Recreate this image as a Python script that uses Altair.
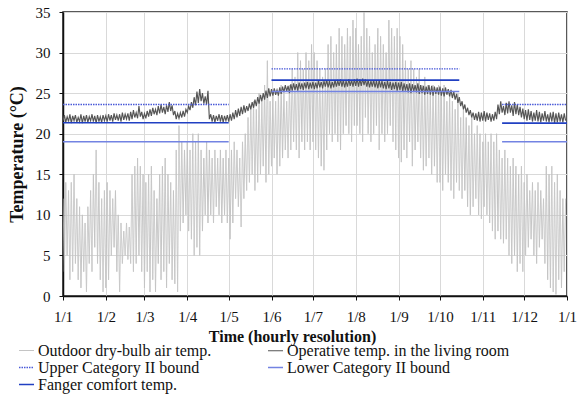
import altair as alt
import pandas as pd

# ---------------- data ----------------
month_days = [0, 31, 59, 90, 120, 151, 181, 212, 243, 273, 304, 334, 365]
month_labels = ["1/1", "1/2", "1/3", "1/4", "1/5", "1/6", "1/7", "1/8",
                "1/9", "1/10", "1/11", "1/12", "1/1"]

# one reading per day of the year (alternating daily low / high)
day_of_year = list(range(365))

outdoor = [
    # Jan
    12, 3, 14, 5, 13, 2, 14, 3, 15, 4, 12, 2, 11, 1, 10, 3, 9, 0.5, 11, 4,
    13, 3, 15, 6, 18, 4, 14, 2, 12, 0.5, 13,
    # Feb
    1, 14, 2, 13, 5, 12, 6, 13, 3, 10, 0.5, 9, 4, 8, 5, 9, 4.5, 8.5, 4, 15,
    3, 16, 4, 17, 5, 16, 3, 15,
    # Mar
    1, 14, 3, 15, 0.5, 16, 2, 13, 0.5, 12, 4, 15, 2, 16, 3, 17, 1, 15, 4, 14,
    2, 13, 1.5, 18, 0.5, 21, 8, 19, 9, 18, 10,
    # Apr
    19, 8, 18, 7, 20, 5, 19, 6, 20, 5, 18, 8, 17, 10, 19, 9, 18, 10, 17, 9,
    18, 11, 17, 10, 18, 9, 17, 10, 18, 9,
    # May
    17, 7, 18, 9, 19, 12, 18, 11, 17, 8.5, 19, 12, 20, 13, 22, 14, 23, 15, 24, 13,
    23, 14, 25, 15, 24, 16, 26, 14, 29, 15, 24,
    # Jun
    16, 25, 17, 24, 15, 25, 16, 26, 17, 25, 18, 24, 17, 26, 18, 28, 19, 27, 18, 30,
    17, 29, 19, 28, 18, 30, 19, 29, 18, 31,
    # Jul
    19, 30, 18, 29, 17, 28, 16, 27, 15.5, 28, 18, 31, 20, 32, 19, 30, 20, 31, 19, 33,
    18, 32, 20, 31, 21, 33, 20, 32, 19, 34, 21,
    # Aug
    33, 21, 31, 20, 32, 19, 35, 22, 33, 20, 32, 19, 30, 20, 31, 21, 33, 18, 32, 20,
    31, 19, 30, 20, 34, 21, 33, 19, 32, 18, 33,
    # Sep
    17, 32, 16.5, 31, 18, 29, 17, 28, 19, 29, 16, 28, 18, 27, 19, 28, 17, 26, 15.5, 27,
    16, 26, 17, 25, 15, 26, 16, 25, 14, 26,
    # Oct
    14, 25, 13, 26, 15, 24, 14, 25, 13, 24, 12, 23, 14, 25, 13, 22, 12, 23, 13, 22,
    11, 21, 10, 22, 11, 20, 12, 21, 10, 20, 9.5,
    # Nov
    19, 11, 20, 10, 19, 9, 20, 8, 19, 7, 20, 8, 18, 7, 17, 6.5, 18, 7, 17, 5,
    16, 4, 17, 5, 16, 3, 15, 4, 16, 3,
    # Dec
    14, 5, 15, 6, 13, 7, 14, 5, 13, 4, 14, 6, 13, 7, 12, 4, 16, 2, 15, 1,
    16, 0.5, 14, 0.2, 15, 2, 13, 1, 12, 3, 12,
]

operative = [
    # Jan
    21.6, 22.3, 21.4, 22.1, 21.5, 22.4, 21.3, 22.2, 21.6, 22.3, 21.4, 22.0, 21.5, 22.4, 21.3, 22.2,
    21.5, 22.3, 21.4, 22.1, 21.6, 22.4, 21.5, 22.2, 21.3, 22.3, 21.5, 22.1, 21.4, 22.3, 21.6,
    # Feb
    22.2, 21.5, 22.4, 21.6, 22.3, 21.5, 22.5, 21.7, 22.3, 21.6, 22.4, 21.5, 22.6, 21.7, 22.4, 21.8,
    22.5, 21.6, 22.7, 21.8, 22.9, 22.0, 22.6, 21.9, 23.4, 22.1, 22.7, 21.8,
    # Mar
    22.5, 21.9, 22.8, 22.1, 23.0, 22.2, 23.2, 22.4, 23.0, 22.3, 23.4, 22.5, 23.6, 22.6, 23.3, 22.4,
    23.5, 22.7, 23.9, 22.8, 23.5, 22.3, 22.8, 21.8, 22.5, 21.9, 22.6, 22.0, 22.8, 22.1, 23.0,
    # Apr
    22.6, 23.4, 22.9, 23.9, 23.2, 24.5, 23.5, 25.2, 23.8, 25.5, 24.0, 25.0, 23.7, 24.6, 23.6, 25.3,
    21.8, 22.4, 21.5, 22.3, 21.4, 22.2, 21.6, 22.4, 21.5, 22.3, 21.4, 22.2, 21.6, 22.3,
    # May
    21.5, 22.4, 21.6, 22.6, 21.8, 22.9, 22.0, 23.1, 22.2, 23.3, 22.4, 23.5, 22.6, 23.4, 22.8, 23.7,
    23.0, 23.9, 23.2, 24.2, 23.4, 24.5, 23.7, 24.8, 24.0, 25.0, 24.2, 25.3, 24.4, 25.6, 24.6,
    # Jun
    25.5, 24.7, 25.6, 24.8, 25.4, 24.7, 25.7, 24.9, 25.8, 25.1, 26.0, 25.2, 25.9, 25.0, 26.1, 25.3,
    26.2, 25.4, 26.1, 25.3, 26.3, 25.5, 26.2, 25.4, 26.3, 25.6, 26.4, 25.5, 26.3, 25.6,
    # Jul
    26.4, 25.5, 26.3, 25.6, 26.5, 25.7, 26.4, 25.6, 26.5, 25.8, 26.6, 25.7, 26.5, 25.6, 26.4, 25.7,
    26.6, 25.8, 26.5, 25.9, 26.7, 25.8, 26.6, 25.7, 26.5, 25.8, 26.7, 25.9, 26.6, 25.8, 26.7,
    # Aug
    25.9, 26.8, 25.8, 26.7, 25.9, 26.8, 26.0, 26.7, 25.8, 26.6, 25.7, 26.5, 25.8, 26.6, 25.7, 26.5,
    25.6, 26.6, 25.7, 26.5, 25.6, 26.4, 25.5, 26.5, 25.6, 26.4, 25.4, 26.3, 25.5, 26.4, 25.3,
    # Sep
    26.3, 25.4, 26.4, 25.2, 26.2, 25.3, 26.1, 25.1, 26.2, 25.0, 26.1, 25.2, 26.0, 25.1, 26.2, 24.9,
    26.0, 25.0, 25.9, 24.8, 25.8, 24.9, 26.0, 24.8, 25.9, 24.7, 25.8, 24.9, 25.7, 24.8,
    # Oct
    25.8, 24.7, 25.6, 24.6, 25.7, 24.8, 25.5, 24.6, 25.4, 24.4, 25.2, 24.2, 24.9, 23.8, 24.5, 23.4,
    24.0, 23.0, 23.6, 22.6, 23.2, 22.3, 22.9, 22.0, 22.6, 21.7, 22.5, 21.6, 22.7, 21.5, 22.6,
    # Nov
    21.6, 22.8, 21.5, 22.6, 21.7, 22.5, 21.5, 22.4, 21.6, 22.7, 21.8, 23.6, 22.4, 24.0, 22.6, 23.4,
    22.3, 23.8, 22.5, 24.0, 22.6, 23.5, 22.2, 23.9, 22.4, 23.6, 22.3, 23.3, 22.0, 23.1,
    # Dec
    21.8, 22.9, 21.6, 23.0, 21.7, 22.8, 21.5, 22.6, 21.6, 22.9, 21.5, 22.7, 21.4, 22.5, 21.6, 22.8,
    21.5, 22.4, 21.4, 22.6, 21.5, 22.7, 21.3, 22.5, 21.4, 22.6, 21.5, 22.4, 21.4, 22.5, 21.6,
]

# comfort bounds per season (heating / cooling / heating)
season_start = [0, 151, 318]
season_end = [120, 287, 365]
upper_bound = [23.6, 28.0, 23.6]
fanger_temp = [21.35, 26.6, 21.3]
lower_bound = [19.0, 25.2, 19.0]

series_names = ["Outdoor dry-bulb air temp.", "Operative temp. in the living room",
                "Upper Category II bound", "Lower Category II bound",
                "Fanger comfort temp."]
series_colors = ["#c4c4c4", "#555555", "#4a5ad8", "#7383e2", "#2140c2"]
series_widths = [1, 1.6, 1, 1, 2.2]
series_dash = [[1, 0], [1, 0], [1.5, 1], [1, 0], [1, 0]]

# ---------------- tables ----------------
df_out = pd.DataFrame({"day": day_of_year, "temp": outdoor, "series": series_names[0]})
df_op = pd.DataFrame({"day": day_of_year, "temp": operative, "series": series_names[1]})

rows = []
for name, vals in [(series_names[3], lower_bound), (series_names[2], upper_bound),
                   (series_names[4], fanger_temp)]:
    for s, e, v in zip(season_start, season_end, vals):
        rows.append({"start": s, "end": e, "temp": v, "series": name})
df_b = pd.DataFrame(rows)

FONT = "Liberation Serif"

label_expr = "[" + ",".join("'%s'" % l for l in month_labels) + "][indexof([" + \
    ",".join(str(d) for d in month_days) + "], datum.value)]"

x_axis = alt.Axis(values=month_days, labelExpr=label_expr, title="Time (hourly resolution)",
                  grid=True, gridColor="#d9d9d9", tickSize=4, labelPadding=9,
                  labelFlush=False, labelFont=FONT, labelFontSize=15,
                  titleFont=FONT, titleFontSize=16, titleFontWeight="bold",
                  titlePadding=4, titleX=229, titleAlign="center",
                  domainColor="#111", domainWidth=1.5, tickColor="#111")
y_axis = alt.Axis(values=[0, 5, 10, 15, 20, 25, 30, 35], title="Temperature (°C)",
                  grid=True, gridColor="#d9d9d9", tickSize=4, labelPadding=9,
                  labelFont=FONT, labelFontSize=15,
                  titleFont=FONT, titleFontSize=18, titleFontWeight="bold",
                  titlePadding=9, domainColor="#111", domainWidth=1.5, tickColor="#111")

xs = alt.Scale(domain=[0, 365], nice=False, zero=False)
ys = alt.Scale(domain=[0, 35], nice=False)

color = alt.Color("series:N", scale=alt.Scale(domain=series_names, range=series_colors), title=None)
width = alt.StrokeWidth("series:N", scale=alt.Scale(domain=series_names, range=series_widths), title=None)
dash = alt.StrokeDash("series:N", scale=alt.Scale(domain=series_names, range=series_dash), title=None)

out_layer = alt.Chart(df_out).mark_line(clip=True).encode(
    x=alt.X("day:Q", scale=xs, axis=x_axis),
    y=alt.Y("temp:Q", scale=ys, axis=y_axis),
    color=color, strokeWidth=width, strokeDash=dash)

op_layer = alt.Chart(df_op).mark_line(clip=True).encode(
    x=alt.X("day:Q", scale=xs), y=alt.Y("temp:Q", scale=ys),
    color=color, strokeWidth=width, strokeDash=dash)

bound_layer = alt.Chart(df_b).mark_rule().encode(
    x=alt.X("start:Q", scale=xs), x2="end:Q", y=alt.Y("temp:Q", scale=ys),
    color=color, strokeWidth=width, strokeDash=dash)

chart = alt.layer(out_layer, op_layer, bound_layer).properties(
    width=504, height=284,
    autosize=alt.AutoSizeParams(type="none"),
    padding={"left": 63, "top": 12, "right": 17, "bottom": 122},
).configure(font=FONT).configure_view(
    stroke="#222", strokeWidth=1.5
).configure_axis(
    labelColor="#111", titleColor="#111"
).configure_legend(
    orient="none", legendX=-45, legendY=330, columns=2, columnPadding=53,
    direction="horizontal", rowPadding=-1, labelFont=FONT, labelFontSize=16,
    labelColor="#111", labelLimit=400, symbolType="stroke", symbolSize=225,
    labelOffset=3, padding=0
)

chart.save("out.html", embed_options={"renderer": "svg", "actions": False})
